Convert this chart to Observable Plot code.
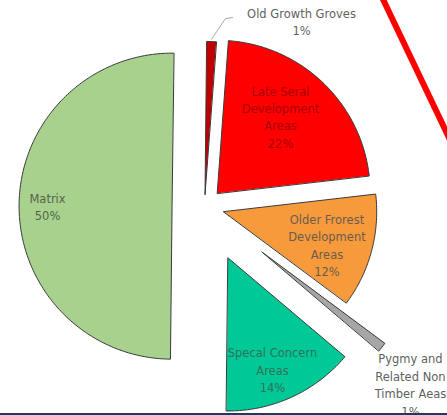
<!DOCTYPE html>
<html><head><meta charset="utf-8">
<script src="https://cdn.jsdelivr.net/npm/d3@7"></script>
<script src="https://cdn.jsdelivr.net/npm/@observablehq/plot@0.6"></script>
<style>
html,body{margin:0;padding:0;background:#fff;}
#wrap{position:relative;width:447px;height:415px;overflow:hidden;background:#fff;}
#wrap svg{display:block;}
.slash{position:absolute;left:380px;top:-10px;width:170px;height:6px;background:#ff0000;transform-origin:0 50%;transform:rotate(64.5deg);}
.rule{position:absolute;left:0;right:0;bottom:0;height:2px;background:#1f3864;}
</style></head><body>
<div id="wrap"></div>
<script>
// ---- data ----
const categories = ["Old Growth Groves", "Late Seral Development Areas", "Older Frorest Development Areas", "Pygmy and Related Non Timber Aeas", "Specal Concern Areas", "Matrix"];
const values = [1, 22, 12, 1, 14, 50];
const labelLines = [["Old Growth Groves"], ["Late Seral", "Development", "Areas"], ["Older Frorest", "Development", "Areas"], ["Pygmy and", "Related Non", "Timber Aeas"], ["Specal Concern", "Areas"], ["Matrix"]];

// ---- style / layout ----
const sliceColors = ["#c00000", "#ff0000", "#f79a3c", "#a6a6a6", "#00c896", "#a9d18e"];
const labelColors = ["#5f5f5f", "#a80000", "#6b5c4c", "#5f5f5f", "#2f735c", "#56644b"];
const explode = [0.079, 0.12, 0.13, 0.48, 0.37, 0.212];
const labelRadius = [1.297, 0.652, 0.708, 1.297, 0.782, 0.814];
const labelTurn = [26.7, -4.4, 2.6, 3.2, 2.8, -0.6];
const leaderPath = [[1.015, 0], [1.157, 4.25], [1.17, 6.45]]; // [radius, degrees past mid-angle]
const startDeg = 0.6;
const R = 153, cxPx = 204, cyPx = 206, W = 447, H = 415;

const rad = Math.PI / 180;
const arcs = d3.pie().sort(null).startAngle(startDeg * rad).endAngle(startDeg * rad + 2 * Math.PI)(values);
const slices = arcs.map((a, i) => {
  const mid = (a.startAngle + a.endAngle) / 2;
  const cx = Math.sin(mid) * explode[i], cy = Math.cos(mid) * explode[i];
  const n = Math.max(2, Math.ceil((a.endAngle - a.startAngle) / rad));
  const pts = [{x: cx, y: cy}];
  for (let k = 0; k <= n; k++) {
    const t = a.startAngle + (a.endAngle - a.startAngle) * k / n;
    pts.push({x: cx + Math.sin(t), y: cy + Math.cos(t)});
  }
  return {i, cx, cy, mid, pts};
});
const labels = slices.map(s => {
  const t = s.mid + labelTurn[s.i] * rad, r = labelRadius[s.i];
  return {x: s.cx + r * Math.sin(t), y: s.cy + r * Math.cos(t),
          text: [...labelLines[s.i], values[s.i] + "%"].join("\n"), color: labelColors[s.i]};
});
const s0 = slices[0];
const leader = leaderPath.map(([r, d]) => {
  const t = s0.mid + d * rad;
  return {x: s0.cx + r * Math.sin(t), y: s0.cy + r * Math.cos(t)};
});

const chart = Plot.plot({
  width: W, height: H,
  margin: 0,
  x: {domain: [-cxPx / R, (W - cxPx) / R], axis: null},
  y: {domain: [(cyPx - H) / R, cyPx / R], axis: null},
  color: {type: "identity"},
  style: {fontFamily: "DejaVu Sans", fontSize: "11.5px", background: "transparent"},
  marks: [
    ...slices.map(s => Plot.line(s.pts, {x: "x", y: "y", curve: "linear-closed", fill: sliceColors[s.i], stroke: "#3a3a3a", strokeWidth: 1})),
    Plot.line(leader, {x: "x", y: "y", stroke: "#a6a6a6", strokeWidth: 1}),
    Plot.text(labels, {x: "x", y: "y", text: "text", fill: "color", fontSize: 11.5, lineHeight: 1.52, textAnchor: "middle", lineAnchor: "middle"})
  ]
});
const wrap = document.getElementById("wrap");
wrap.appendChild(chart);
const slash = document.createElement("div"); slash.className = "slash"; wrap.appendChild(slash);
const rule = document.createElement("div"); rule.className = "rule"; wrap.appendChild(rule);
</script>
</body></html>
